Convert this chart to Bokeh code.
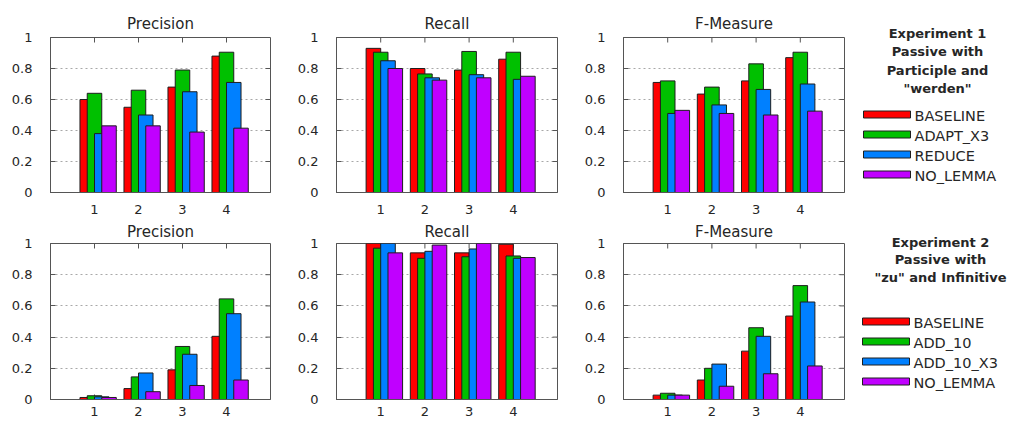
import math
from bokeh.plotting import figure
from bokeh.models import ColumnDataSource, Range1d, FixedTicker
from bokeh.layouts import row, column
from bokeh.transform import dodge
from bokeh.core.properties import value
from bokeh.embed import file_html
from bokeh.resources import INLINE

# ---------------- data ----------------
categories = [1, 2, 3, 4]
y_ticks = [0, 0.2, 0.4, 0.6, 0.8, 1]
y_tick_labels = ["0", "0.2", "0.4", "0.6", "0.8", "1"]
metric_titles = ["Precision", "Recall", "F-Measure"]

exp1_title = ["Experiment 1", "Passive with", "Participle and", '"werden"']
exp1_series = ["BASELINE", "ADAPT_X3", "REDUCE", "NO_LEMMA"]
exp1_precision_baseline = [0.60, 0.55, 0.68, 0.88]
exp1_precision_adapt_x3 = [0.64, 0.66, 0.79, 0.905]
exp1_precision_reduce = [0.38, 0.50, 0.65, 0.71]
exp1_precision_no_lemma = [0.43, 0.43, 0.39, 0.415]
exp1_recall_baseline = [0.93, 0.80, 0.79, 0.86]
exp1_recall_adapt_x3 = [0.905, 0.765, 0.91, 0.905]
exp1_recall_reduce = [0.85, 0.74, 0.76, 0.73]
exp1_recall_no_lemma = [0.80, 0.725, 0.74, 0.75]
exp1_fmeasure_baseline = [0.71, 0.635, 0.72, 0.87]
exp1_fmeasure_adapt_x3 = [0.72, 0.68, 0.83, 0.905]
exp1_fmeasure_reduce = [0.51, 0.565, 0.665, 0.70]
exp1_fmeasure_no_lemma = [0.53, 0.51, 0.50, 0.525]

exp2_title = ["Experiment 2", "Passive with", '"zu" and Infinitive']
exp2_series = ["BASELINE", "ADD_10", "ADD_10_X3", "NO_LEMMA"]
exp2_precision_baseline = [0.013, 0.07, 0.19, 0.405]
exp2_precision_add_10 = [0.024, 0.145, 0.34, 0.645]
exp2_precision_add_10_x3 = [0.017, 0.17, 0.29, 0.55]
exp2_precision_no_lemma = [0.013, 0.05, 0.09, 0.125]
exp2_recall_baseline = [1.0, 0.94, 0.94, 0.995]
exp2_recall_add_10 = [0.97, 0.905, 0.915, 0.92]
exp2_recall_add_10_x3 = [1.0, 0.95, 0.965, 0.905]
exp2_recall_no_lemma = [0.94, 0.99, 1.0, 0.91]
exp2_fmeasure_baseline = [0.028, 0.125, 0.31, 0.535]
exp2_fmeasure_add_10 = [0.04, 0.20, 0.46, 0.73]
exp2_fmeasure_add_10_x3 = [0.028, 0.227, 0.405, 0.625]
exp2_fmeasure_no_lemma = [0.028, 0.085, 0.165, 0.215]

# ---------------- style / layout ----------------
COLORS = ["#ff0000", "#00c000", "#0080ff", "#c000ff"]
OFFSETS = [-0.165, 0.0, 0.165, 0.33]
BAR_W = 0.33
FONT = "DejaVu Sans"
TXT = "#262626"
FRAME = "#555555"
BAR_LINE = "#1e1e1e"

COLS = [(294, 50, 24), (287, 42, 24), (274, 42, 11)]   # width, border left, border right
# height, border top, border bottom, x label standoff, title standoff
ROWS = [(217, 37, 25, 12, 9), (206, 26, 24, 7, 6)]
LEG_W = 159
LEG_X0 = 855                                            # page x of legend column
PAGE_H = 423


def panel(title, series, col, rw):
    w, bl, br = COLS[col]
    h, bt, bb, xs, ts = ROWS[rw]
    p = figure(width=w, height=h, output_backend="svg", toolbar_location=None,
               x_range=Range1d(0, 5), y_range=Range1d(0, 1),
               min_border_left=bl, min_border_right=br,
               min_border_top=bt, min_border_bottom=bb, title=title)
    p.title.align = "center"
    p.title.text_font = FONT
    p.title.text_font_size = "15px"
    p.title.text_font_style = "normal"
    p.title.text_color = TXT
    p.title.standoff = ts
    p.outline_line_color = FRAME
    p.outline_line_width = 1

    p.xgrid.visible = False
    p.ygrid.ticker = FixedTicker(ticks=y_ticks[1:-1])
    p.ygrid.grid_line_color = "#a8a8a8"
    p.ygrid.grid_line_dash = "2 3"
    p.ygrid.grid_line_width = 1

    # mirrored inward ticks (clipped to the frame, drawn beneath the bars)
    n = len(categories)
    p.scatter(x=categories, y=[p.y_range.end] * n, marker="dash", size=10,
              angle=math.pi / 2, line_color=FRAME, line_width=1)
    p.scatter(x=categories, y=[p.y_range.start] * n, marker="dash", size=10,
              angle=math.pi / 2, line_color=FRAME, line_width=1)
    inner = y_ticks[1:-1]
    p.scatter(x=[p.x_range.end] * len(inner), y=inner, marker="dash", size=10,
              line_color=FRAME, line_width=1)

    data = dict(x=categories)
    for i, s in enumerate(series):
        data["s%d" % i] = s
    src = ColumnDataSource(data)
    for i in range(len(series)):
        p.vbar(x=dodge("x", OFFSETS[i]), top="s%d" % i, width=BAR_W, bottom=0,
               source=src, fill_color=COLORS[i], line_color=BAR_LINE, line_width=1)

    for ax in p.xaxis:
        ax.ticker = FixedTicker(ticks=categories)
        ax.major_label_standoff = xs
        ax.major_tick_in = 0
        ax.major_tick_out = 0
    for ax in p.yaxis:
        ax.ticker = FixedTicker(ticks=y_ticks)
        ax.major_label_overrides = dict(zip(y_ticks, y_tick_labels))
        ax.major_label_standoff = 18
        ax.major_tick_in = 5
        ax.major_tick_out = 0
    for ax in list(p.xaxis) + list(p.yaxis):
        ax.minor_tick_line_color = None
        ax.axis_line_color = FRAME
        ax.major_tick_line_color = FRAME
        ax.major_label_text_font = FONT
        ax.major_label_text_font_size = "13px"
        ax.major_label_text_color = TXT
    return p


# one legend figure for the whole right-hand column, ranges in page pixels
lf = figure(width=LEG_W, height=PAGE_H, output_backend="svg", toolbar_location=None,
            x_range=Range1d(LEG_X0, LEG_X0 + LEG_W), y_range=Range1d(PAGE_H, 0),
            x_axis_location=None, y_axis_location=None, min_border=0)
lf.xgrid.visible = False
lf.ygrid.visible = False
lf.outline_line_color = None


def legend_block(title_lines, title_x, title_ys, names, sw_x, lab_x, item_ys):
    n = len(title_lines)
    lf.text(x=[title_x] * n, y=title_ys, text=title_lines, text_font=value(FONT),
            text_font_style="bold", text_font_size="13px", text_align="center",
            text_baseline="middle", text_color=TXT)
    m = len(names)
    lf.rect(x=[sw_x] * m, y=item_ys, width=47, height=7, fill_color=COLORS[:m],
            line_color=BAR_LINE, line_width=1)
    lf.text(x=[lab_x] * m, y=[y + 1 for y in item_ys], text=names, text_font=value(FONT),
            text_font_size="14.5px", text_align="left", text_baseline="middle", text_color=TXT)


legend_block(exp1_title, 937, [33, 51, 69.5, 88], exp1_series,
             886.5, 914, [114, 134, 154, 174])
legend_block(exp2_title, 940, [241.7, 259, 276.7], exp2_series,
             885.5, 913, [321, 341, 361, 381])

exp1 = [
    [exp1_precision_baseline, exp1_precision_adapt_x3, exp1_precision_reduce, exp1_precision_no_lemma],
    [exp1_recall_baseline, exp1_recall_adapt_x3, exp1_recall_reduce, exp1_recall_no_lemma],
    [exp1_fmeasure_baseline, exp1_fmeasure_adapt_x3, exp1_fmeasure_reduce, exp1_fmeasure_no_lemma],
]
exp2 = [
    [exp2_precision_baseline, exp2_precision_add_10, exp2_precision_add_10_x3, exp2_precision_no_lemma],
    [exp2_recall_baseline, exp2_recall_add_10, exp2_recall_add_10_x3, exp2_recall_no_lemma],
    [exp2_fmeasure_baseline, exp2_fmeasure_add_10, exp2_fmeasure_add_10_x3, exp2_fmeasure_no_lemma],
]

row1 = row(*[panel(metric_titles[c], exp1[c], c, 0) for c in range(3)])
row2 = row(*[panel(metric_titles[c], exp2[c], c, 1) for c in range(3)])

layout = row(column(row1, row2), lf)
open("out.html", "w").write(file_html(layout, INLINE))
